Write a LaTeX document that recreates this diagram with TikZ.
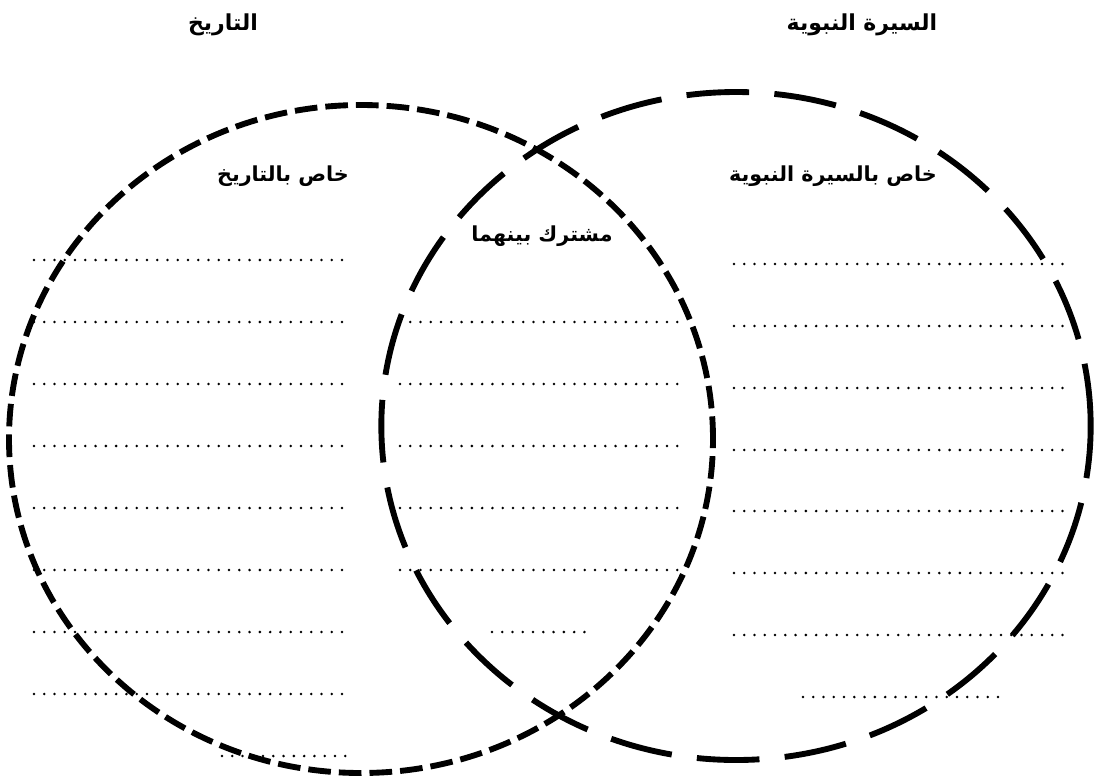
\documentclass[tikz,border=0pt]{standalone}
\usepackage{fontspec}
\usepackage{tikz}
\usetikzlibrary{shapes.geometric}
\newfontfamily\arabicfont[Script=Arabic]{DejaVu Sans}
\TeXXeTstate=1
\tikzstyle{headtext} = [font=\arabicfont\bfseries\fontsize{16.5}{19}\selectfont, inner sep=0pt]
\tikzstyle{areatext} = [font=\arabicfont\bfseries\fontsize{15.5}{18}\selectfont, inner sep=0pt]
\tikzstyle{ringhist} = [ellipse, draw=black, line width=4.4pt,
dash pattern=on 17pt off 6pt,
minimum width=528pt, minimum height=501pt, inner sep=0pt]
\tikzstyle{ringsira} = [ellipse, draw=black, line width=4.4pt,
dash pattern=on 47pt off 19pt,
minimum width=532pt, minimum height=501pt, inner sep=0pt]
\tikzstyle{dotline} = [line width=2.1pt, line cap=round, dash pattern=on 0pt off 7.7pt]

\begin{document}
\begin{tikzpicture}[x=0.75pt,y=-0.75pt]
\useasboundingbox (0,0) rectangle (1095,776);

\node (hist) [ringhist] at (361,439) {};
\node (sira) [ringsira] at (736,426) {};

\node (histtitle) [headtext] at (223,25) {\beginR التاريخ\endR};
\node (siratitle) [headtext] at (862,25) {\beginR السيرة النبوية\endR};
\node (histown) [areatext] at (283,176) {\beginR خاص بالتاريخ\endR};
\node (siraown) [areatext] at (833,176) {\beginR خاص بالسيرة النبوية\endR};
\node (common) [areatext] at (542,236) {\beginR مشترك بينهما\endR};

% left column
\draw [dotline] (34,260) -- (350,260);
\draw [dotline] (34,322) -- (350,322);
\draw [dotline] (34,384) -- (350,384);
\draw [dotline] (34,446) -- (350,446);
\draw [dotline] (34,508) -- (350,508);
\draw [dotline] (34,570) -- (350,570);
\draw [dotline] (34,632) -- (350,632);
\draw [dotline] (34,694) -- (350,694);
\draw [dotline] (222,756) -- (350,756);

% middle column
\draw [dotline] (400,322) -- (680,322);
\draw [dotline] (400,384) -- (680,384);
\draw [dotline] (400,446) -- (680,446);
\draw [dotline] (400,508) -- (680,508);
\draw [dotline] (400,570) -- (680,570);
\draw [dotline] (492,632) -- (588,632);

% right column
\draw [dotline] (734,264) -- (1069,264);
\draw [dotline] (734,326) -- (1069,326);
\draw [dotline] (734,388) -- (1069,388);
\draw [dotline] (734,450) -- (1069,450);
\draw [dotline] (734,511) -- (1069,511);
\draw [dotline] (734,573) -- (1069,573);
\draw [dotline] (734,635) -- (1069,635);
\draw [dotline] (803,697) -- (1001,697);

\end{tikzpicture}
\end{document}
